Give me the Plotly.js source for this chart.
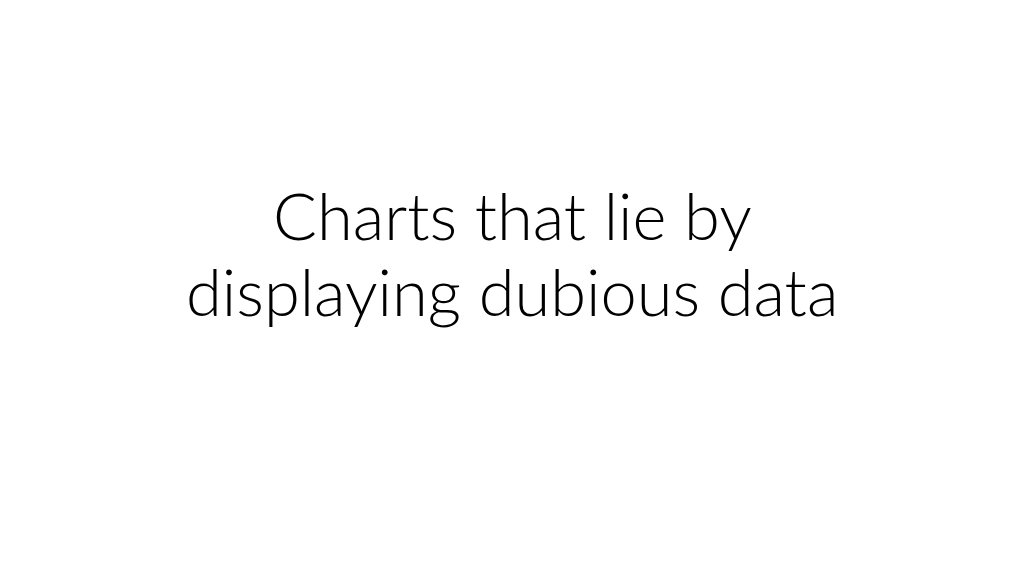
<!DOCTYPE html>
<html>
<head>
<meta charset="utf-8">
<script src="https://cdn.plot.ly/plotly-3.0.1.min.js"></script>
<style>
  html, body { margin: 0; padding: 0; background: #ffffff; }
  #slide { width: 1024px; height: 576px; }
</style>
</head>
<body>
<div id="slide"></div>
<script>
// Title slide: two lines of text, no series
const titleLines = ['Charts that lie by', 'displaying dubious data'];
const lineY = [0.627, 0.494];

const annotations = titleLines.map((t, i) => ({
    text: t,
    xref: 'paper', yref: 'paper',
    x: 0.5, y: lineY[i],
    xanchor: 'center', yanchor: 'middle',
    showarrow: false,
    font: { family: 'Lato, "Open Sans", sans-serif', size: 65, color: '#000000', weight: 300 },
}));

const layout = {
    width: 1024,
    height: 576,
    margin: { l: 0, r: 0, t: 0, b: 0 },
    paper_bgcolor: '#ffffff',
    plot_bgcolor: '#ffffff',
    xaxis: { visible: false, range: [0, 1] },
    yaxis: { visible: false, range: [0, 1] },
    showlegend: false,
    annotations,
};

Plotly.newPlot('slide', [], layout, { staticPlot: true, displayModeBar: false });
</script>
</body>
</html>
